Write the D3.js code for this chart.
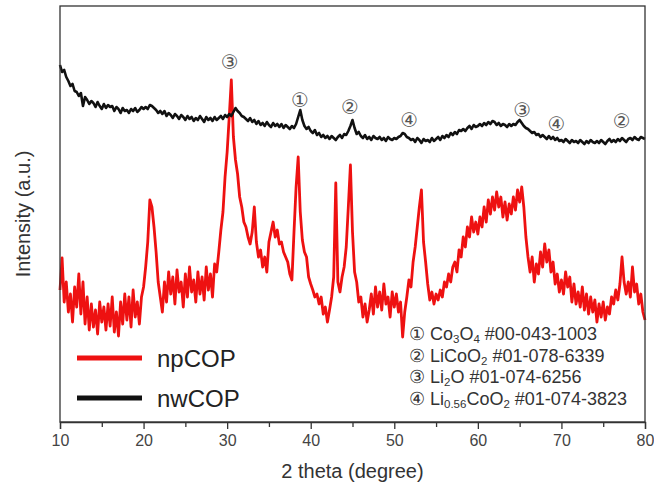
<!DOCTYPE html>
<html lang="en">
<head>
<meta charset="UTF-8">
<title>XRD npCOP / nwCOP</title>
<script src="https://cdn.jsdelivr.net/npm/d3@7/dist/d3.min.js"></script>
<style>
  body { margin: 0; padding: 0; background: #fff; overflow: hidden; }
  svg { display: block; font-family: "Liberation Sans", Arial, sans-serif; }
  .axis path, .axis line { stroke: #333; stroke-width: 1.3px; }
  .axis text { fill: #444; font-size: 16px; }
  .mark { font-family: "DejaVu Sans", sans-serif; font-size: 20px; fill: #555; }
</style>
</head>
<body>
<div id="chart"></div>
<script>
// scan: 10 -> 80 deg, step 0.25 deg
const scanStart = 10, scanStep = 0.25;

// npCOP (red), intensity a.u.
const npCOP = [
  132,
  164, 120, 140, 110, 128, 100, 135, 115,
  148, 108, 140, 98, 125, 92, 118, 95,
  112, 88, 120, 100, 115, 92, 118, 96,
  125, 90, 110, 86, 120, 98, 128, 102,
  125, 95, 132, 105, 120, 98, 125, 135,
  155, 180, 222, 215, 195, 170, 140, 125,
  110, 140, 120, 150, 128, 145, 118, 152,
  130, 140, 115, 148, 125, 155, 130, 142,
  120, 150, 128, 145, 122, 155, 132, 148,
  125, 158, 150, 170, 192, 210, 245, 270,
  305, 342, 285, 262, 248, 225, 215, 200,
  195, 185, 178, 190, 215, 180, 165, 172,
  155, 165, 150, 180, 190, 200, 185, 192,
  178, 180, 170, 165, 160, 148, 142, 190,
  235, 265, 210, 182, 170, 165, 145, 138,
  132, 125, 128, 118, 125, 108, 115, 100,
  112, 125, 145, 239, 140, 130, 145, 155,
  175, 215, 257, 190, 150, 140, 120, 125,
  105, 118, 100, 112, 128, 108, 135, 115,
  130, 112, 138, 118, 125, 105, 130, 115,
  128, 110, 120, 85, 110, 125, 142, 135,
  160, 175, 195, 215, 232, 180, 160, 138,
  122, 130, 118, 128, 122, 132, 125, 140,
  135, 148, 140, 155, 160, 150, 172, 165,
  185, 175, 195, 185, 205, 190, 200, 188,
  205, 195, 215, 200, 222, 208, 225, 212,
  230, 215, 225, 205, 220, 202, 218, 208,
  225, 212, 232, 220, 235, 215, 185, 165,
  150, 165, 140, 158, 148, 170, 155, 178,
  160, 172, 150, 160, 138, 148, 130, 142,
  128, 150, 135, 145, 120, 138, 118, 130,
  115, 135, 112, 128, 108, 125, 110, 122,
  100, 118, 105, 120, 102, 115, 108, 125,
  118, 132, 122, 138, 165, 140, 128, 140,
  125, 155, 130, 138, 118, 128, 110, 102
];

// nwCOP (black), intensity a.u.
const nwCOP = [
  357, 350, 352, 345, 341, 336, 338, 331, 330,
  326, 329, 316, 325, 322, 318, 321, 319,
  315, 320, 316, 313, 318, 314, 317, 315,
  316, 311, 315, 313, 309, 314, 311, 312,
  309, 313, 311, 314, 310, 312, 315, 313,
  315, 313, 317, 316, 314, 312, 309, 311,
  308, 311, 306, 309, 307, 304, 308, 306,
  303, 307, 305, 302, 306, 303, 305, 301,
  304, 302, 306, 303, 300, 305, 302, 304,
  301, 305, 302, 304, 306, 303, 307, 305,
  308, 306, 310, 314, 311, 309, 306, 305,
  303, 301, 304, 300, 302, 298, 301, 297,
  299, 296, 300, 297, 295, 299, 296, 298,
  295, 298, 294, 297, 295, 293, 296, 294,
  298, 305, 312, 302, 296, 293, 295, 291,
  289, 292, 287, 289, 285, 287, 284, 286,
  283, 286, 284, 282, 285, 287, 284, 288,
  287, 291, 296, 302, 294, 288, 290, 286,
  284, 287, 283, 285, 282, 286, 284, 283,
  285, 282, 284, 281, 285, 283, 282, 284,
  283, 285, 286, 289, 288, 285, 284, 282,
  283, 280, 284, 282, 279, 283, 281, 282,
  280, 284, 281, 283, 285, 282, 286, 284,
  287, 285, 289, 287, 290, 288, 292, 291,
  293, 291, 294, 296, 293, 297, 295, 296,
  298, 296, 299, 297, 300, 298, 301, 300,
  297, 299, 296, 298, 297, 295, 298, 296,
  298, 297, 300, 302, 299, 296, 294, 293,
  291, 289, 290, 287, 288, 285, 287, 285,
  283, 286, 283, 285, 282, 284, 281, 282,
  280, 283, 281, 279, 282, 280, 281, 279,
  282, 280, 278, 281, 279, 282, 280, 279,
  281, 279, 282, 280, 278, 281, 283, 280,
  282, 280, 283, 281, 284, 282, 280, 283,
  284, 282, 285, 283, 282, 285, 284, 283
];

const majorTicks = [10, 20, 30, 40, 50, 60, 70, 80];
const minorTicks = [15, 25, 35, 45, 55, 65, 75];

// phase markers over the nwCOP trace: [2theta, intensity, label]
const peakMarks = [
  [30.3, 360, "③"], [38.7, 322, "①"], [44.7, 315, "②"], [51.8, 302, "④"],
  [65.3, 312, "③"], [69.4, 298, "④"], [77.2, 301, "②"]
];

// phase key, segments: [text, isSubscript]
const phaseKey = [
  [["① Co"], ["3", 1], ["O"], ["4", 1], [" #00-043-1003"]],
  [["② LiCoO"], ["2", 1], [" #01-078-6339"]],
  [["③ Li"], ["2", 1], ["O #01-074-6256"]],
  [["④ Li"], ["0.56", 1], ["CoO"], ["2", 1], [" #01-074-3823"]]
];

const seriesKey = [["npCOP", "#ee1111"], ["nwCOP", "#111"]];

const width = 654, height = 491;
const svg = d3.select("#chart").append("svg")
  .attr("width", width).attr("height", height);

const x = d3.scaleLinear().domain([10, 80]).range([60, 645]);
const y = d3.scaleLinear().domain([0, 416]).range([422, 6]);

const line = d3.line()
  .x((d, i) => x(scanStart + i * scanStep))
  .y(d => y(d));

svg.append("path").datum(npCOP)
  .attr("fill", "none").attr("stroke", "#ee1111")
  .attr("stroke-width", 2.8).attr("stroke-linejoin", "round")
  .attr("d", line);

svg.append("path").datum(nwCOP)
  .attr("fill", "none").attr("stroke", "#111")
  .attr("stroke-width", 2.6).attr("stroke-linejoin", "round")
  .attr("d", line);

// frame
svg.append("rect")
  .attr("x", x(10)).attr("y", y(416))
  .attr("width", x(80) - x(10)).attr("height", y(0) - y(416))
  .attr("fill", "none").attr("stroke", "#333").attr("stroke-width", 1.3);

svg.append("g").attr("class", "axis")
  .attr("transform", `translate(0,${y(0)})`)
  .call(d3.axisBottom(x).tickValues(minorTicks).tickSize(5).tickFormat(""))
  .call(g => g.select(".domain").remove());

svg.append("g").attr("class", "axis")
  .attr("transform", `translate(0,${y(0)})`)
  .call(d3.axisBottom(x).tickValues(majorTicks).tickSize(7).tickPadding(6));

svg.append("text")
  .attr("x", (x(10) + x(80)) / 2).attr("y", 478)
  .attr("text-anchor", "middle").attr("font-size", 20).attr("fill", "#333")
  .text("2 theta (degree)");

svg.append("text")
  .attr("transform", `translate(30,${(y(0) + y(416)) / 2}) rotate(-90)`)
  .attr("text-anchor", "middle").attr("font-size", 20).attr("fill", "#333")
  .text("Intensity (a.u.)");

svg.append("g").selectAll("text")
  .data(peakMarks).join("text")
  .attr("class", "mark")
  .attr("x", d => x(d[0])).attr("y", d => y(d[1]))
  .attr("text-anchor", "middle").attr("dominant-baseline", "central")
  .text(d => d[2]);

// series legend
const leg = svg.append("g").selectAll("g")
  .data(seriesKey).join("g")
  .attr("transform", (d, i) => `translate(77,${358 + i * 40})`);
leg.append("line").attr("x1", 0).attr("x2", 65)
  .attr("stroke", d => d[1]).attr("stroke-width", 5);
leg.append("text").attr("x", 80).attr("y", 9)
  .attr("font-size", 24).attr("fill", "#222")
  .text(d => d[0]);

// phase key, one text per row
phaseKey.forEach((segs, i) => {
  const row = svg.append("text")
    .attr("x", 409).attr("y", 340 + i * 21.5)
    .attr("font-size", 18).attr("fill", "#333");
  let low = false;
  segs.forEach(s => {
    const sub = !!s[1];
    const dy = sub === low ? 0 : (sub ? 3 : -3);
    row.append("tspan")
      .attr("font-size", sub ? 11.5 : 18)
      .attr("dy", dy)
      .text(s[0]);
    low = sub;
  });
});
</script>
</body>
</html>
